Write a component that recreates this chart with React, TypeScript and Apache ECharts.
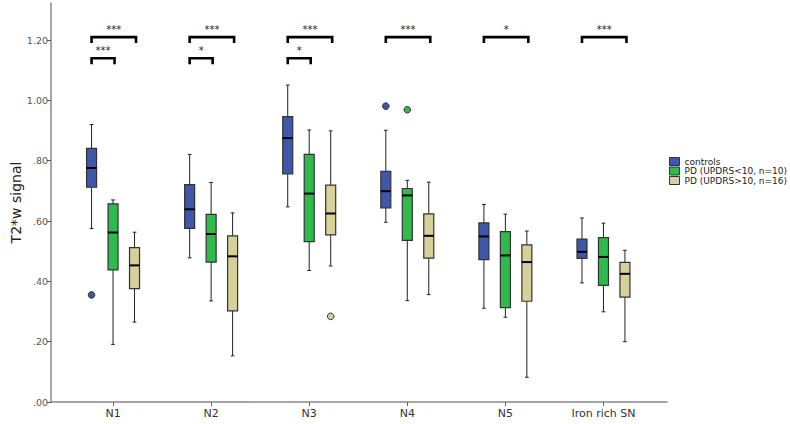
import React, { useEffect, useRef } from "react";
import * as echarts from "echarts";

const categories = ["N1", "N2", "N3", "N4", "N5", "Iron rich SN"];
const groupNames = ["controls", "PD (UPDRS<10, n=10)", "PD (UPDRS>10, n=16)"];
const groupColors = ["#3F57AA", "#2FBB4B", "#D6D09A"];

// [lower whisker, Q1, median, Q3, upper whisker] per category
const controls = [
  [0.575, 0.712, 0.776, 0.841, 0.92],
  [0.478, 0.576, 0.639, 0.721, 0.821],
  [0.647, 0.756, 0.875, 0.946, 1.051],
  [0.596, 0.644, 0.699, 0.765, 0.901],
  [0.311, 0.472, 0.549, 0.594, 0.655],
  [0.395, 0.476, 0.498, 0.54, 0.61],
];
const pdLow = [
  [0.191, 0.438, 0.562, 0.657, 0.67],
  [0.335, 0.464, 0.557, 0.622, 0.728],
  [0.436, 0.532, 0.691, 0.821, 0.902],
  [0.336, 0.536, 0.685, 0.708, 0.735],
  [0.281, 0.313, 0.486, 0.565, 0.623],
  [0.299, 0.387, 0.481, 0.545, 0.593],
];
const pdHigh = [
  [0.265, 0.376, 0.453, 0.512, 0.563],
  [0.153, 0.302, 0.483, 0.551, 0.627],
  [0.451, 0.554, 0.625, 0.719, 0.899],
  [0.356, 0.477, 0.551, 0.624, 0.729],
  [0.082, 0.334, 0.464, 0.521, 0.567],
  [0.2, 0.348, 0.425, 0.463, 0.503],
];
// [category index, value]
const controlsOutliers = [[0, 0.355], [3, 0.981]];
const pdLowOutliers = [[3, 0.969]];
const pdHighOutliers = [[2, 0.284]];

const yTicks = [0, 0.2, 0.4, 0.6, 0.8, 1.0, 1.2];

// significance brackets
const bracketCats = [0, 0, 1, 1, 2, 2, 3, 4, 5];
const bracketFrom = [0, 0, 0, 0, 0, 0, 0, 0, 0];
const bracketTo = [2, 1, 2, 1, 2, 1, 2, 2, 2];
const bracketLevels = [1.21, 1.14, 1.21, 1.14, 1.21, 1.14, 1.21, 1.21, 1.21];
const bracketLabels = ["***", "***", "***", "*", "***", "*", "***", "*", "***"];

const FONT = "'Liberation Sans', Arial, Helvetica, sans-serif";
const WIDE = "'DejaVu Sans', Verdana, sans-serif";
const OFFSET = 0.219;
const BOXW = 0.102;
const CAPW = 0.038;

const stats = [controls, pdLow, pdHigh];
const outliers = [controlsOutliers, pdLowOutliers, pdHighOutliers];

function boxSeries(g: number) {
  return {
    type: "custom",
    name: groupNames[g],
    xAxisIndex: 1,
    yAxisIndex: 1,
    data: stats[g].map((s, i) => [i, ...s]),
    encode: { x: 0, y: [1, 2, 3, 4, 5] },
    itemStyle: { color: groupColors[g] },
    renderItem: (params: any, api: any) => {
      const cat = api.value(0);
      const bw = api.size([1, 0])[0];
      const cx = api.coord([cat, 0])[0] + (g - 1) * OFFSET * bw;
      const w = BOXW * bw;
      const cw = CAPW * bw;
      const [yLow, yQ1, yMed, yQ3, yHigh] = [1, 2, 3, 4, 5].map(
        (d) => api.coord([cat, api.value(d)])[1]
      );
      const ws = { stroke: "#222", lineWidth: 1 };
      return {
        type: "group",
        children: [
          { type: "line", shape: { x1: cx, y1: yHigh, x2: cx, y2: yQ3 }, style: ws },
          { type: "line", shape: { x1: cx, y1: yQ1, x2: cx, y2: yLow }, style: ws },
          { type: "line", shape: { x1: cx - cw / 2, y1: yHigh, x2: cx + cw / 2, y2: yHigh }, style: ws },
          { type: "line", shape: { x1: cx - cw / 2, y1: yLow, x2: cx + cw / 2, y2: yLow }, style: ws },
          {
            type: "rect",
            shape: { x: cx - w / 2, y: yQ3, width: w, height: yQ1 - yQ3 },
            style: { fill: groupColors[g], stroke: "#333", lineWidth: 1.2 },
          },
          {
            type: "line",
            shape: { x1: cx - w / 2, y1: yMed, x2: cx + w / 2, y2: yMed },
            style: { stroke: "#000", lineWidth: 2 },
          },
        ],
      };
    },
  };
}

function outlierSeries(g: number) {
  return {
    type: "custom",
    name: groupNames[g],
    xAxisIndex: 1,
    yAxisIndex: 1,
    data: outliers[g],
    encode: { x: 0, y: 1 },
    itemStyle: { color: groupColors[g] },
    renderItem: (params: any, api: any) => {
      const cat = api.value(0);
      const bw = api.size([1, 0])[0];
      const p = api.coord([cat, api.value(1)]);
      return {
        type: "circle",
        shape: { cx: p[0] + (g - 1) * OFFSET * bw, cy: p[1], r: 3.3 },
        style: { fill: groupColors[g], stroke: "#333", lineWidth: 1 },
      };
    },
  };
}

const bracketSeries = {
  type: "custom",
  name: "brackets",
  xAxisIndex: 1,
  yAxisIndex: 1,
  data: bracketCats.map((c, i) => [c, bracketFrom[i], bracketTo[i], bracketLevels[i]]),
  encode: { x: 0, y: 3 },
  renderItem: (params: any, api: any) => {
    const cat = api.value(0);
    const bw = api.size([1, 0])[0];
    const base = api.coord([cat, api.value(3)]);
    const x1 = base[0] + (api.value(1) - 1) * OFFSET * bw;
    const x2 = base[0] + (api.value(2) - 1) * OFFSET * bw + 1.5;
    const y = base[1];
    return {
      type: "group",
      children: [
        {
          type: "polyline",
          shape: { points: [[x1, y + 6], [x1, y], [x2, y], [x2, y + 6]] },
          style: { stroke: "#000", lineWidth: 2.6, fill: null },
        },
        {
          type: "text",
          x: (x1 + x2) / 2,
          y: y - 3,
          style: {
            text: bracketLabels[params.dataIndex],
            fill: "#222",
            font: `10px ${WIDE}`,
            align: "center",
            verticalAlign: "bottom",
            textAlign: "center",
            textVerticalAlign: "bottom",
          },
        },
      ],
    };
  },
};

export default function App() {
  const ref = useRef<HTMLDivElement>(null);
  useEffect(() => {
    if (!ref.current) return;
    const chart = echarts.init(ref.current, null, { renderer: "svg" });
    const yMax = 1.323;
    chart.setOption({
      animation: false,
      backgroundColor: "#fff",
      textStyle: { fontFamily: FONT },
      legend: {
        orient: "vertical",
        left: 669,
        top: 157,
        padding: 0,
        itemWidth: 10,
        itemHeight: 8,
        itemGap: 0.5,
        textStyle: { fontSize: 9, color: "#222", fontFamily: WIDE },
        data: groupNames.map((n, i) => ({
          name: n,
          icon: "rect",
          itemStyle: { color: groupColors[i], borderColor: "#333", borderWidth: 1 },
        })),
      },
      grid: [
        { left: 51, right: 123, top: 3, bottom: 22, outerBoundsMode: "none", containLabel: false },
        { left: 64, right: 137.5, top: 3, bottom: 22, outerBoundsMode: "none", containLabel: false },
      ],
      xAxis: [
        {
          type: "value",
          gridIndex: 0,
          min: 0,
          max: 1,
          axisLine: { show: true, onZero: false, lineStyle: { color: "#888", width: 1.5 } },
          axisTick: { show: false },
          axisLabel: { show: false },
          splitLine: { show: false },
        },
        {
          type: "category",
          gridIndex: 1,
          data: categories,
          axisLine: { show: false },
          axisTick: { show: true, alignWithLabel: true, length: 4, lineStyle: { color: "#666" } },
          axisLabel: { fontSize: 11, color: "#333", margin: 6, fontFamily: WIDE },
          splitLine: { show: false },
        },
      ],
      yAxis: [
        {
          type: "value",
          gridIndex: 0,
          min: 0,
          max: yMax,
          name: "T2*w signal",
          nameLocation: "middle",
          nameGap: 28,
          nameMoveOverlap: false,
          nameTextStyle: { fontSize: 14, color: "#222", fontFamily: WIDE },
          axisLine: { show: true, lineStyle: { color: "#888", width: 1.5 } },
          axisTick: { show: true, length: 4, customValues: yTicks, lineStyle: { color: "#555" } },
          axisLabel: {
            customValues: yTicks,
            fontSize: 9.5,
            color: "#555",
            margin: 3,
            fontFamily: WIDE,
            formatter: (v: number) => v.toFixed(2).replace(/^0/, ""),
          },
          splitLine: { show: false },
        },
        {
          type: "value",
          gridIndex: 1,
          min: 0,
          max: yMax,
          show: false,
          splitLine: { show: false },
        },
      ],
      series: [
        boxSeries(0),
        boxSeries(1),
        boxSeries(2),
        outlierSeries(0),
        outlierSeries(1),
        outlierSeries(2),
        bracketSeries,
      ],
    });
    return () => chart.dispose();
  }, []);
  return (
    <div
      ref={ref}
      style={{ position: "fixed", left: 0, top: 0, width: 790, height: 424, background: "#fff" }}
    />
  );
}
